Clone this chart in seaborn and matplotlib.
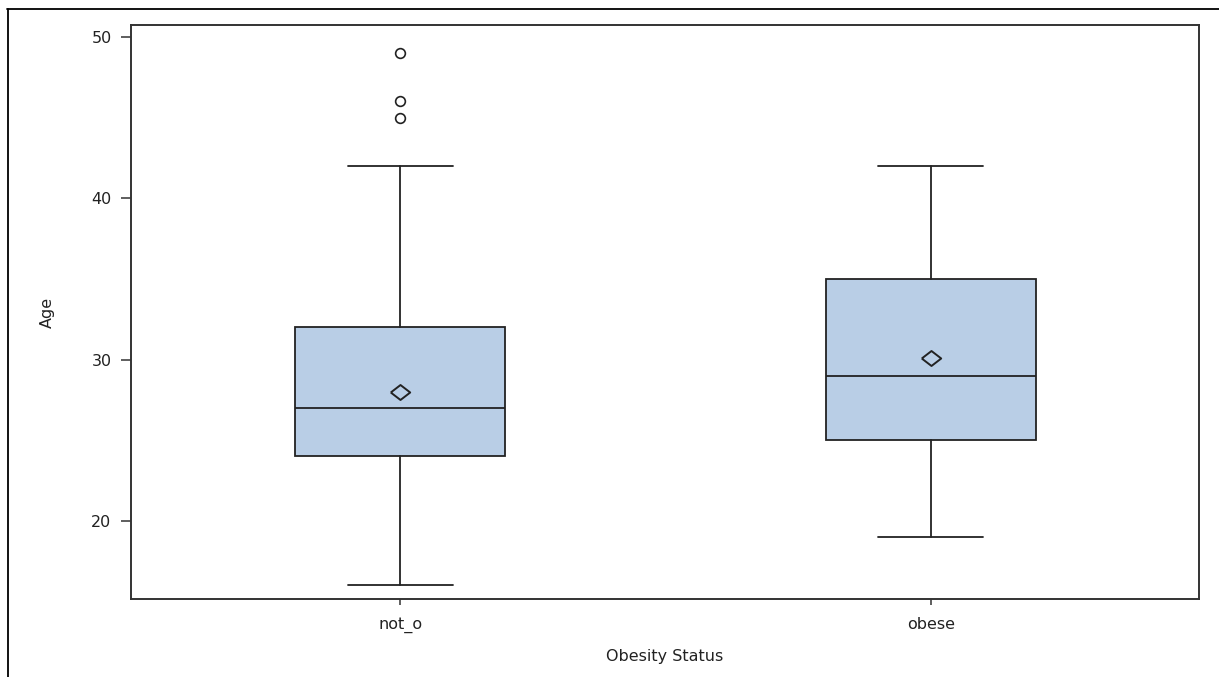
import matplotlib
matplotlib.use("Agg")
import matplotlib.pyplot as plt
import seaborn as sns
from matplotlib.lines import Line2D

# Data (summary statistics per group)
categories = ["not_o", "obese"]
whisker_low = [16, 19]
q1 = [24, 25]
median = [27, 29]
q3 = [32, 35]
whisker_high = [42, 42]
means = [28.0, 30.1]
outliers = [[45, 46, 49], []]

yticks = [20, 30, 40, 50]

sns.set_theme(style="white")
plt.rcParams['font.family'] = ['DejaVu Sans']

fig = plt.figure(figsize=(12.19, 6.77), dpi=100)
ax = fig.add_axes([131/1219, 1 - 599/677, (1199 - 131)/1219, (599 - 25)/677])

stats = []
for i, c in enumerate(categories):
    stats.append(dict(label=c, whislo=whisker_low[i], q1=q1[i], med=median[i],
                      q3=q3[i], whishi=whisker_high[i], mean=means[i],
                      fliers=outliers[i]))

edge = "#222222"
mean_marker = [(-1.3, 0), (0, 1), (1.3, 0), (0, -1), (-1.3, 0)]
ax.bxp(stats, positions=list(range(len(categories))), widths=0.397,
       patch_artist=True, showmeans=True, showfliers=True,
       boxprops=dict(facecolor="#B9CEE6", edgecolor=edge, linewidth=1.3),
       medianprops=dict(color=edge, linewidth=1.3),
       whiskerprops=dict(color=edge, linewidth=1.3),
       capprops=dict(color=edge, linewidth=1.3),
       capwidths=0.198,
       meanprops=dict(marker=mean_marker, markerfacecolor="none",
                      markeredgecolor=edge, markeredgewidth=1.4, markersize=14),
       flierprops=dict(marker="o", markerfacecolor="none", markeredgecolor=edge,
                       markeredgewidth=1.2, markersize=7))

ax.set_xlim(-0.507, 1.505)
ax.set_ylim(15.16, 50.74)
ax.set_yticks(yticks)
ax.set_yticklabels([str(v) for v in yticks])
ax.set_xticks(range(len(categories)))
ax.set_xticklabels(categories)

for s in ax.spines.values():
    s.set_color("#333333")
    s.set_linewidth(1.4)

fs = 11.5
ax.tick_params(axis="y", which="major", direction="out", length=7, width=1.1,
               color="#333333", labelsize=fs, labelcolor="#222222", pad=7, left=True)
ax.tick_params(axis="x", which="major", direction="out", length=4, width=1.1,
               color="#333333", labelsize=fs, labelcolor="#222222", pad=9, bottom=True)

ax.set_xlabel("Obesity Status", fontsize=fs, color="#222222", labelpad=12)
ax.set_ylabel("Age", fontsize=fs, color="#222222", labelpad=26)
ax.grid(False)

# outer frame lines (top and left) as in the reference
fig.add_artist(Line2D([7/1219, 1.0], [1 - 9/677, 1 - 9/677], transform=fig.transFigure,
                      color="black", linewidth=1.3))
fig.add_artist(Line2D([8/1219, 8/1219], [1 - 9/677, 0.0], transform=fig.transFigure,
                      color="black", linewidth=1.3))

fig.savefig("out.png", dpi=100)
